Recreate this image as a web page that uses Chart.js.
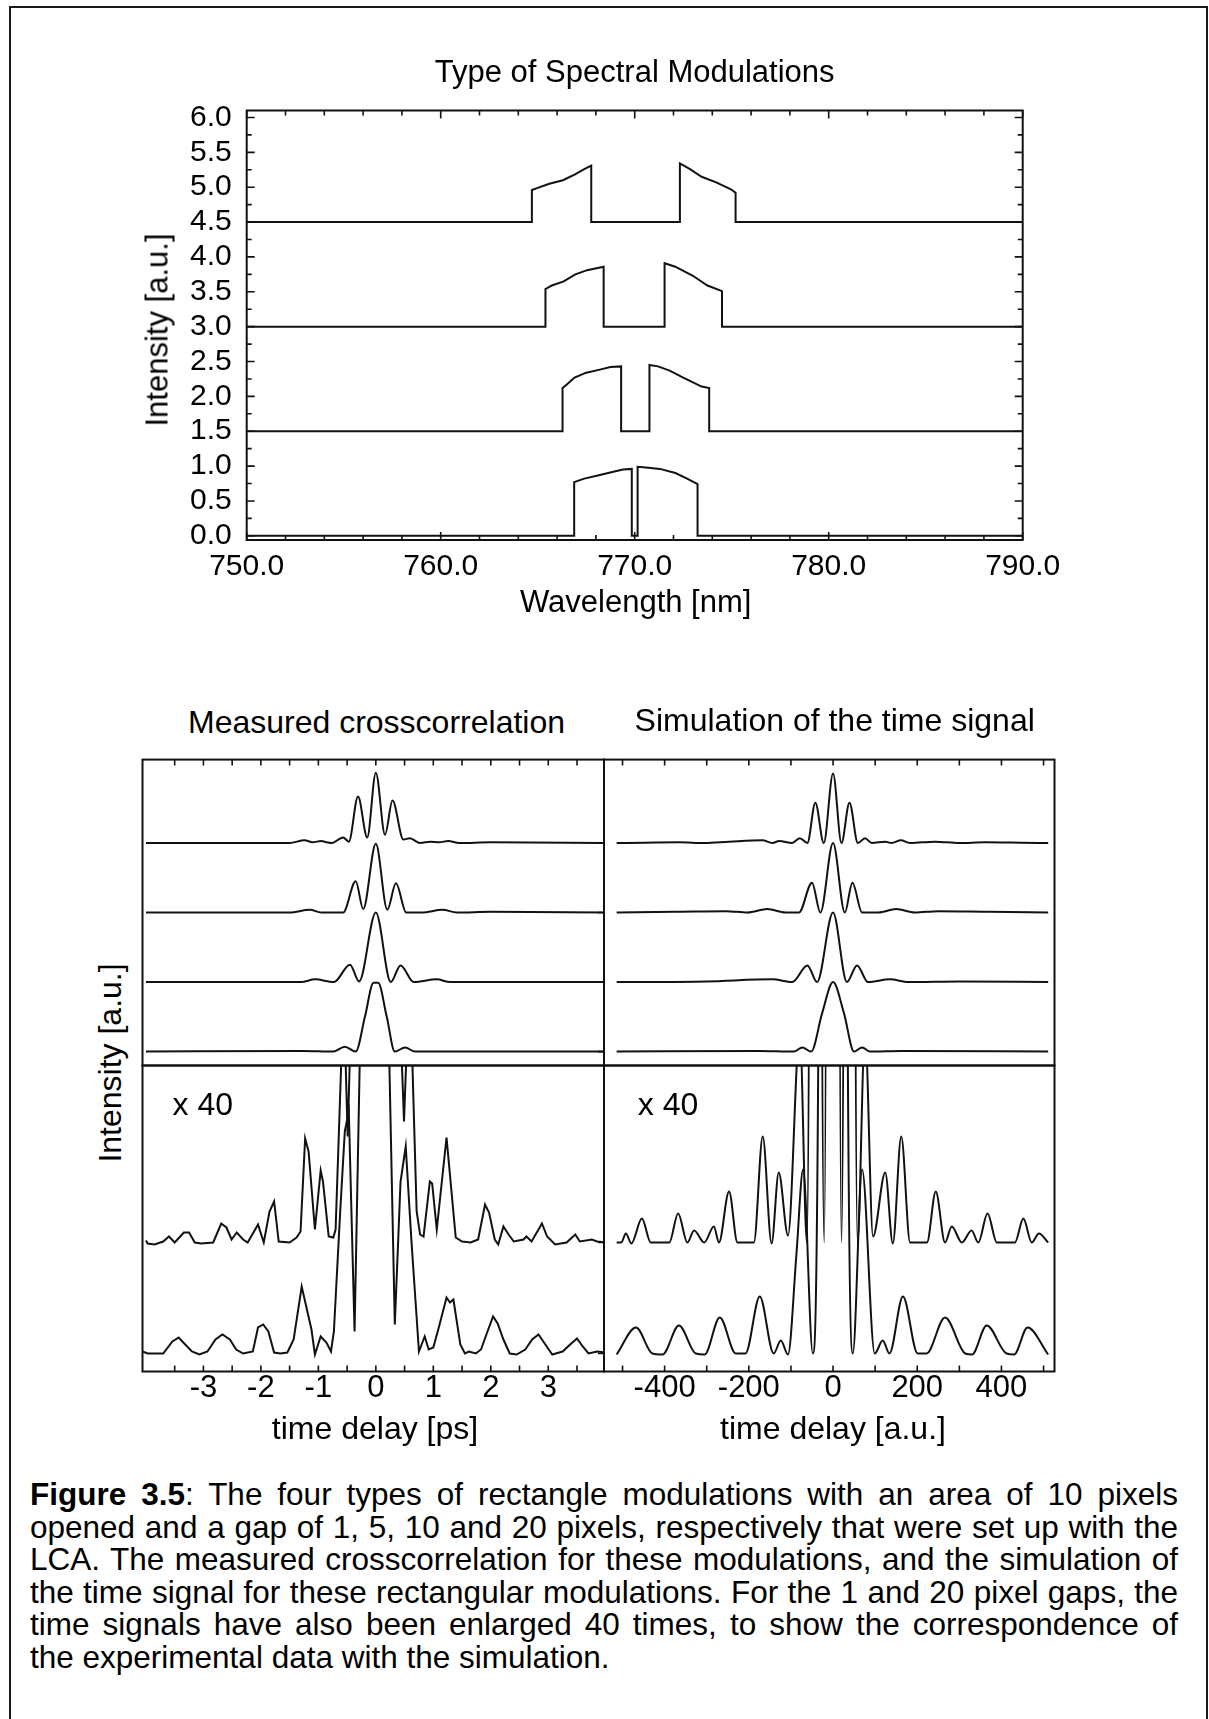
<!DOCTYPE html>
<html>
<head>
<meta charset="utf-8">
<title>Figure 3.5</title>
<script src="https://cdn.jsdelivr.net/npm/chart.js@4.4.1/dist/chart.umd.min.js"></script>
<style>
  html, body { margin: 0; padding: 0; background: #fff; }
  body { position: relative; width: 1209px; height: 1719px; overflow: hidden;
         font-family: "Liberation Sans", Arial, Helvetica, sans-serif; color: #000; }
  #frame { position: absolute; left: 9px; top: 6px; width: 1194.5px; height: 1760px;
           border: 2px solid #1a1a1a; border-bottom: none; }
  canvas { position: absolute; }
  .lbl { position: absolute; white-space: nowrap; line-height: 1; transform: translate(-50%, -50%); }
  .vert { transform: translate(-50%, -50%) rotate(-90deg); }
  #caption { position: absolute; left: 30px; top: 1478px; width: 1148px; font-size: 31.5px; line-height: 32.5px; }
  #caption div { white-space: nowrap; text-align: justify; text-align-last: justify; }
  #caption div.end { text-align-last: left; }
</style>
</head>
<body>
<div id="frame"></div>

<canvas id="specChart"></canvas>
<canvas id="measUpper"></canvas>
<canvas id="measLower"></canvas>
<canvas id="simUpper"></canvas>
<canvas id="simLower"></canvas>

<div class="lbl" style="left:634.7px; top:71px; font-size:31px;">Type of Spectral Modulations</div>
<div class="lbl" style="left:635.7px; top:601px; font-size:31px;">Wavelength [nm]</div>
<div class="lbl vert" style="left:156.7px; top:330px; font-size:31px;">Intensity [a.u.]</div>

<div class="lbl" style="left:376.5px; top:722px; font-size:32px;">Measured crosscorrelation</div>
<div class="lbl" style="left:834.7px; top:720px; font-size:32px;">Simulation of the time signal</div>
<div class="lbl vert" style="left:109.6px; top:1063px; font-size:32px;">Intensity [a.u.]</div>
<div class="lbl" style="left:202.8px; top:1104px; font-size:32px;">x 40</div>
<div class="lbl" style="left:668px; top:1104px; font-size:32px;">x 40</div>
<div class="lbl" style="left:375px; top:1428px; font-size:32px;">time delay [ps]</div>
<div class="lbl" style="left:833px; top:1428px; font-size:32px;">time delay [a.u.]</div>

<div id="caption">
  <div><b>Figure 3.5</b>: The four types of rectangle modulations with an area of 10 pixels</div>
  <div>opened and a gap of 1, 5, 10 and 20 pixels, respectively that were set up with the</div>
  <div>LCA. The measured crosscorrelation for these modulations, and the simulation of</div>
  <div>the time signal for these rectangular modulations. For the 1 and 20 pixel gaps, the</div>
  <div>time signals have also been enlarged 40 times, to show the correspondence of</div>
  <div class="end">the experimental data with the simulation.</div>
</div>

<script>
// ---- spectral modulations (wavelength in nm, intensity in a.u.), gaps of 1, 5, 10, 20 pixels
const specX1 = [750, 766.88, 766.88, 767.4, 768.15, 768.9, 769.4, 769.85, 769.85, 770.15, 770.15, 770.57, 771.3, 772.1, 772.7, 773.24, 773.24, 790];
const specY1 = [0, 0, 0.77, 0.82, 0.87, 0.92, 0.95, 0.96, 0, 0, 0.99, 0.98, 0.96, 0.90, 0.82, 0.74, 0, 0];
const specX2 = [750, 766.28, 766.28, 766.5, 766.9, 767.5, 768.15, 768.75, 769.3, 769.3, 770.76, 770.76, 771.2, 771.8, 772.5, 773.45, 773.84, 773.84, 790];
const specY2 = [1.5, 1.5, 2.12, 2.17, 2.27, 2.34, 2.38, 2.42, 2.43, 1.5, 1.5, 2.45, 2.43, 2.37, 2.27, 2.14, 2.12, 1.5, 1.5];
const specX3 = [750, 765.4, 765.4, 765.73, 766.34, 766.94, 767.55, 768.4, 768.4, 771.54, 771.54, 772.09, 773.0, 773.75, 774.5, 774.5, 790];
const specY3 = [3.0, 3.0, 3.54, 3.59, 3.65, 3.75, 3.81, 3.86, 3.0, 3.0, 3.91, 3.86, 3.73, 3.59, 3.51, 3.0, 3.0];
const specX4 = [750, 764.7, 764.7, 765.0, 765.6, 766.3, 766.9, 767.4, 767.76, 767.76, 772.33, 772.33, 772.85, 773.45, 774.2, 774.96, 775.2, 775.2, 790];
const specY4 = [4.5, 4.5, 4.96, 4.99, 5.05, 5.10, 5.18, 5.26, 5.31, 4.5, 4.5, 5.34, 5.26, 5.15, 5.07, 4.97, 4.92, 4.5, 4.5];

const specXLabels = [750, 760, 770, 780, 790];
const specXMinor = [752, 754, 756, 758, 762, 764, 766, 768, 772, 774, 776, 778, 782, 784, 786, 788];
const specYLabels = [0, 0.5, 1, 1.5, 2, 2.5, 3, 3.5, 4, 4.5, 5, 5.5, 6];
const specYMinor = [0.25, 0.75, 1.25, 1.75, 2.25, 2.75, 3.25, 3.75, 4.25, 4.75, 5.25, 5.75];

// ---- measured crosscorrelation (time delay in ps), top to bottom: 20, 10, 5, 1 pixel gap
const upperOffsets = [3, 2, 1, 0];
const measT1 = [-4, -1.5, -1.24, -1.1, -0.95, -0.85, -0.77, -0.57, -0.47, -0.31, -0.15, 0, 0.16, 0.29, 0.48, 0.59, 0.77, 0.95, 1.1, 1.26, 1.45, 2.0, 4];
const measY1 = [0, 0, 0.04, 0.01, 0.03, 0.01, 0, 0.08, 0.02, 0.67, 0.08, 1.01, 0.12, 0.61, 0.05, 0.07, 0, 0.02, 0.01, 0.03, 0, 0.01, 0];
const measT2 = [-4, -1.5, -1.15, -0.95, -0.57, -0.35, -0.22, 0, 0.20, 0.35, 0.53, 0.8, 1.16, 1.41, 2.0, 4];
const measY2 = [0, 0, 0.04, 0, 0, 0.45, 0.05, 0.99, 0.04, 0.42, 0, 0, 0.04, 0, 0.01, 0];
const measT3 = [-4, -1.3, -1.06, -0.73, -0.45, -0.29, 0, 0.26, 0.43, 0.66, 1.06, 1.29, 4];
const measY3 = [0, 0, 0.04, 0, 0.25, 0.01, 1.0, 0, 0.24, 0, 0.04, 0, 0];
const measT4 = [-4, -1.27, -0.74, -0.54, -0.35, -0.19, -0.04, 0.04, 0.19, 0.33, 0.51, 0.68, 4];
const measY4 = [0, 0.01, 0, 0.07, 0, 0.5, 0.99, 0.99, 0.5, 0, 0.06, 0, 0];

// measured, enlarged x 40 (20 pixel gap on top, 1 pixel gap below)
const measX40T1 = [-4.0, -3.97, -3.85, -3.70, -3.60, -3.50, -3.34, -3.25, -3.15, -3.04, -2.83, -2.69, -2.60, -2.51, -2.42, -2.31, -2.23, -2.05, -1.95, -1.85, -1.77, -1.69, -1.50, -1.38, -1.31, -1.23, -1.17, -1.06, -0.96, -0.92, -0.82, -0.74, -0.70, -0.56, -0.49, -0.42, -0.31, -0.15, 0, 0.16, 0.29, 0.42, 0.49, 0.56, 0.60, 0.71, 0.77, 0.83, 0.94, 0.98, 1.06, 1.23, 1.39, 1.50, 1.65, 1.78, 1.90, 1.97, 2.07, 2.13, 2.22, 2.31, 2.40, 2.57, 2.62, 2.71, 2.89, 2.98, 3.12, 3.32, 3.47, 3.55, 3.76, 3.85, 4.0];
const measX40Y1 = [1.31, 1.28, 1.27, 1.30, 1.35, 1.29, 1.39, 1.39, 1.29, 1.28, 1.29, 1.48, 1.44, 1.32, 1.39, 1.32, 1.29, 1.47, 1.29, 1.60, 1.70, 1.30, 1.29, 1.34, 1.40, 2.33, 2.20, 1.42, 2.01, 1.90, 1.35, 1.34, 1.42, 3.8, 2.35, 3.8, 25, 4.5, 40, 5.0, 25, 3.6, 2.5, 3.6, 3.8, 1.6, 1.37, 1.35, 1.90, 1.88, 1.42, 2.34, 1.34, 1.30, 1.29, 1.32, 1.67, 1.59, 1.32, 1.27, 1.45, 1.37, 1.30, 1.32, 1.35, 1.30, 1.48, 1.35, 1.27, 1.29, 1.37, 1.30, 1.32, 1.30, 1.29];
const measX40T2 = [-4.06, -3.97, -3.80, -3.70, -3.54, -3.43, -3.35, -3.20, -3.07, -2.93, -2.79, -2.67, -2.54, -2.43, -2.31, -2.14, -2.05, -1.96, -1.87, -1.77, -1.66, -1.54, -1.43, -1.29, -1.12, -1.06, -0.96, -0.86, -0.78, -0.73, -0.62, -0.54, -0.47, -0.37, -0.25, -0.1, 0, 0.1, 0.22, 0.33, 0.43, 0.52, 0.62, 0.75, 0.85, 0.92, 1.00, 1.10, 1.23, 1.29, 1.35, 1.47, 1.55, 1.62, 1.74, 1.83, 1.93, 2.04, 2.12, 2.22, 2.33, 2.45, 2.60, 2.72, 2.83, 2.95, 3.07, 3.25, 3.40, 3.50, 3.60, 3.70, 3.85, 4.0];
const measX40Y2 = [0.20, 0.18, 0.18, 0.18, 0.30, 0.34, 0.29, 0.20, 0.17, 0.20, 0.32, 0.37, 0.32, 0.22, 0.18, 0.20, 0.44, 0.47, 0.40, 0.19, 0.18, 0.19, 0.32, 0.85, 0.42, 0.17, 0.35, 0.29, 0.20, 0.40, 1.6, 2.4, 2.6, 0.40, 4.0, 30, 40, 30, 3.5, 0.47, 1.9, 2.25, 1.3, 0.20, 0.35, 0.22, 0.24, 0.45, 0.74, 0.69, 0.72, 0.27, 0.18, 0.20, 0.18, 0.22, 0.38, 0.55, 0.48, 0.32, 0.18, 0.17, 0.22, 0.32, 0.37, 0.27, 0.17, 0.20, 0.28, 0.33, 0.25, 0.18, 0.20, 0.19];
const measX40Base = [0.18, 1.29];

const measXLabels = [-3, -2, -1, 0, 1, 2, 3];
const measXTicks = [-3.5, -3, -2.5, -2, -1.5, -1, -0.5, 0, 0.5, 1, 1.5, 2, 2.5, 3, 3.5];

// ---- simulated time signal (time delay in a.u.), same order
const simT1 = [-514, -446, -365, -305, -246, -168, -144, -128, -97, -79, -61, -42, -22, 0, 20, 39, 59, 76, 92, 124, 139, 161, 183, 242, 300, 360, 446, 511];
const simY1 = [0, 0.005, 0.01, 0, 0.02, 0.04, 0, 0.03, 0, 0.07, 0, 0.58, 0, 1.0, 0, 0.58, 0, 0.07, 0, 0.02, 0, 0.04, 0, 0.02, 0, 0.01, 0.005, 0];
const simT2 = [-514, -375, -254, -203, -156, -113, -81, -50, -30, 0, 28, 46, 69, 108, 150, 194, 250, 370, 511];
const simY2 = [0, 0.01, 0.02, 0, 0.05, 0, 0, 0.43, 0, 1.0, 0, 0.43, 0, 0, 0.05, 0, 0.02, 0.01, 0];
const simT3 = [-514, -300, -144, -97, -61, -38, 0, 33, 57, 83, 135, 179, 300, 511];
const simY3 = [0, 0.01, 0.04, 0, 0.24, 0, 1.0, 0, 0.24, 0, 0.04, 0, 0.01, 0];
const simT4 = [-514, -176, -93, -73, -52, -26, 0, 26, 50, 69, 88, 163, 511];
const simY4 = [0, 0.01, 0, 0.06, 0, 0.55, 1.0, 0.55, 0, 0.06, 0, 0.01, 0];

const simX40T1 = [-514, -503, -492, -479, -454, -433, -389, -368, -346, -330, -306, -283, -271, -247, -227, -188, -167, -146, -129, -107, -79, -62, -42, -21, 0, 20, 39, 58, 76, 95, 124, 142, 162, 183, 223, 244, 266, 282, 306, 329, 345, 367, 389, 432, 452, 472, 489, 511];
const simX40Y1 = [1.29, 1.29, 1.38, 1.28, 1.53, 1.29, 1.29, 1.58, 1.29, 1.41, 1.29, 1.45, 1.29, 1.80, 1.29, 1.29, 2.35, 1.28, 1.99, 1.36, 3.4, 1.29, 17, 1.29, 29, 1.29, 17, 1.29, 3.4, 1.35, 1.99, 1.28, 2.35, 1.29, 1.29, 1.80, 1.29, 1.45, 1.29, 1.41, 1.29, 1.58, 1.29, 1.29, 1.53, 1.29, 1.38, 1.29];
const simX40T2 = [-514, -468, -429, -405, -366, -326, -305, -269, -231, -208, -174, -141, -124, -107, -87, -71, -48, -35, -20, 0, 20, 35, 47, 69, 99, 118, 134, 166, 201, 222, 266, 314, 330, 365, 412, 430, 462, 511];
const simX40Y2 = [0.17, 0.44, 0.18, 0.17, 0.46, 0.18, 0.17, 0.54, 0.18, 0.18, 0.75, 0.18, 0.31, 0.17, 1.17, 2.02, 0.18, 3.2, 20, 40, 20, 3.2, 0.18, 2.02, 0.18, 0.31, 0.18, 0.75, 0.18, 0.18, 0.54, 0.18, 0.17, 0.46, 0.18, 0.17, 0.44, 0.17];

const simXLabels = [-400, -200, 0, 200, 400];
const simXTicks = [-500, -400, -300, -200, -100, 0, 100, 200, 300, 400, 500];

Chart.defaults.font.family = "'Liberation Sans', Arial, Helvetica, sans-serif";
Chart.defaults.color = '#000';

// inward tick marks + box around the plot area
const tickSpecs = {};
const frameTicks = {
    id: 'frameTicks',
    afterDatasetsDraw(chart) {
        const spec = tickSpecs[chart.canvas.id] || {};
        const ctx = chart.ctx;
        const a = chart.chartArea;
        const xs = chart.scales.x, ys = chart.scales.y;
        ctx.save();
        ctx.strokeStyle = '#111';
        ctx.lineWidth = 2;
        ctx.strokeRect(a.left, a.top, a.right - a.left, a.bottom - a.top);
        ctx.lineWidth = 1.6;
        ctx.beginPath();
        (spec.x || []).forEach(([vals, len, sides]) => {
            vals.forEach(v => {
                const px = xs.getPixelForValue(v);
                if (sides.includes('top')) { ctx.moveTo(px, a.top); ctx.lineTo(px, a.top + len); }
                if (sides.includes('bottom')) { ctx.moveTo(px, a.bottom); ctx.lineTo(px, a.bottom - len); }
            });
        });
        (spec.y || []).forEach(([vals, len, sides]) => {
            vals.forEach(v => {
                const py = ys.getPixelForValue(v);
                if (sides.includes('left')) { ctx.moveTo(a.left, py); ctx.lineTo(a.left + len, py); }
                if (sides.includes('right')) { ctx.moveTo(a.right, py); ctx.lineTo(a.right - len, py); }
            });
        });
        ctx.stroke();
        ctx.restore();
    }
};

function trace(xs, ys, offset, smooth) {
    return {
        data: xs.map((x, i) => ({ x: x, y: ys[i] + offset })),
        borderColor: '#111',
        borderWidth: 2,
        pointRadius: 0,
        tension: 0,
        cubicInterpolationMode: smooth ? 'monotone' : 'default',
        capBezierPoints: false
    };
}

function makeChart(id, box, area, cfg) {
    const cv = document.getElementById(id);
    cv.width = box.w;
    cv.height = box.h;
    cv.style.left = box.x + 'px';
    cv.style.top = box.y + 'px';
    cv.style.width = box.w + 'px';
    cv.style.height = box.h + 'px';

    const yw = cfg.yLabels ? area.l - box.x : 0;
    const xh = cfg.xLabels ? (box.y + box.h) - area.b : 0;

    new Chart(cv, {
        type: 'line',
        data: { datasets: cfg.datasets },
        plugins: [frameTicks],
        options: {
            responsive: false,
            animation: false,
            events: [],
            layout: {
                padding: {
                    left: area.l - box.x - yw,
                    top: area.t - box.y,
                    right: box.x + box.w - area.r,
                    bottom: box.y + box.h - area.b - xh
                }
            },
            plugins: { legend: { display: false }, tooltip: { enabled: false } },
            scales: {
                x: {
                    type: 'linear',
                    min: cfg.xMin, max: cfg.xMax,
                    display: !!cfg.xLabels,
                    grid: { display: false, drawTicks: false },
                    border: { display: false },
                    ticks: {
                        autoSkip: false, maxRotation: 0, minRotation: 0,
                        padding: cfg.xPad || 0,
                        font: { size: cfg.fontSize, lineHeight: 1 },
                        color: '#000',
                        callback: cfg.xFmt || (v => String(v))
                    },
                    afterBuildTicks: s => { if (cfg.xLabels) s.ticks = cfg.xLabels.map(v => ({ value: v })); },
                    afterFit: s => { if (cfg.xLabels) s.height = xh; }
                },
                y: {
                    type: 'linear',
                    min: cfg.yMin, max: cfg.yMax,
                    display: !!cfg.yLabels,
                    grid: { display: false, drawTicks: false },
                    border: { display: false },
                    ticks: {
                        autoSkip: false,
                        padding: cfg.yPad || 0,
                        font: { size: cfg.fontSize, lineHeight: 1 },
                        color: '#000',
                        callback: cfg.yFmt || (v => String(v))
                    },
                    afterBuildTicks: s => { if (cfg.yLabels) s.ticks = cfg.yLabels.map(v => ({ value: v })); },
                    afterFit: s => { if (cfg.yLabels) s.width = yw; }
                }
            }
        }
    });
}

// ---- top panel
tickSpecs.specChart = {
    x: [[specXLabels, 8, 'top bottom'], [specXMinor, 5, 'top bottom']],
    y: [[specYLabels, 8, 'left right'], [specYMinor, 5, 'left right']]
};
makeChart('specChart', { x: 150, y: 60, w: 940, h: 560 }, { l: 246.7, t: 110.5, r: 1022.7, b: 540 }, {
    datasets: [
        trace(specX1, specY1, 0, false),
        trace(specX2, specY2, 0, false),
        trace(specX3, specY3, 0, false),
        trace(specX4, specY4, 0, false)
    ],
    xMin: 750, xMax: 790, yMin: -0.06, yMax: 6.1,
    xLabels: specXLabels, yLabels: specYLabels,
    xFmt: v => v.toFixed(1), yFmt: v => v.toFixed(1),
    fontSize: 30, xPad: 12, yPad: 15
});

// ---- measured crosscorrelation
const leftArea = { l: 142.5, r: 604 };
const rightArea = { l: 604, r: 1054.5 };
const upperTop = 759.6, midLine = 1065.5, lowerBottom = 1371.5;

tickSpecs.measUpper = { x: [[measXTicks, 6, 'top']] };
makeChart('measUpper', { x: 130, y: 748, w: 486, h: 328 }, { l: leftArea.l, t: upperTop, r: leftArea.r, b: midLine }, {
    datasets: [
        trace(measT1, measY1, upperOffsets[0], true),
        trace(measT2, measY2, upperOffsets[1], true),
        trace(measT3, measY3, upperOffsets[2], true),
        trace(measT4, measY4, upperOffsets[3], true)
    ],
    xMin: -4.06, xMax: 3.97, yMin: -0.2, yMax: 4.2
});

tickSpecs.measLower = { x: [[measXTicks, 6, 'bottom']] };
makeChart('measLower', { x: 130, y: 1055, w: 486, h: 380 }, { l: leftArea.l, t: midLine, r: leftArea.r, b: lowerBottom }, {
    datasets: [
        trace(measX40T1, measX40Y1, 0, false),
        trace(measX40T2, measX40Y2, 0, false)
    ],
    xMin: -4.06, xMax: 3.97, yMin: 0, yMax: 3.06,
    xLabels: measXLabels, fontSize: 31, xPad: 1
});

// ---- simulated time signal
tickSpecs.simUpper = { x: [[simXTicks, 6, 'top']], y: [[upperOffsets, -6, 'left']] };
makeChart('simUpper', { x: 592, y: 748, w: 476, h: 328 }, { l: rightArea.l, t: upperTop, r: rightArea.r, b: midLine }, {
    datasets: [
        trace(simT1, simY1, upperOffsets[0], true),
        trace(simT2, simY2, upperOffsets[1], true),
        trace(simT3, simY3, upperOffsets[2], true),
        trace(simT4, simY4, upperOffsets[3], true)
    ],
    xMin: -544, xMax: 526, yMin: -0.2, yMax: 4.2
});

tickSpecs.simLower = { x: [[simXTicks, 6, 'bottom']], y: [[measX40Base, -6, 'left']] };
makeChart('simLower', { x: 592, y: 1055, w: 476, h: 380 }, { l: rightArea.l, t: midLine, r: rightArea.r, b: lowerBottom }, {
    datasets: [
        trace(simX40T1, simX40Y1, 0, true),
        trace(simX40T2, simX40Y2, 0, true)
    ],
    xMin: -544, xMax: 526, yMin: 0, yMax: 3.06,
    xLabels: simXLabels, fontSize: 31, xPad: 1
});
</script>
</body>
</html>
